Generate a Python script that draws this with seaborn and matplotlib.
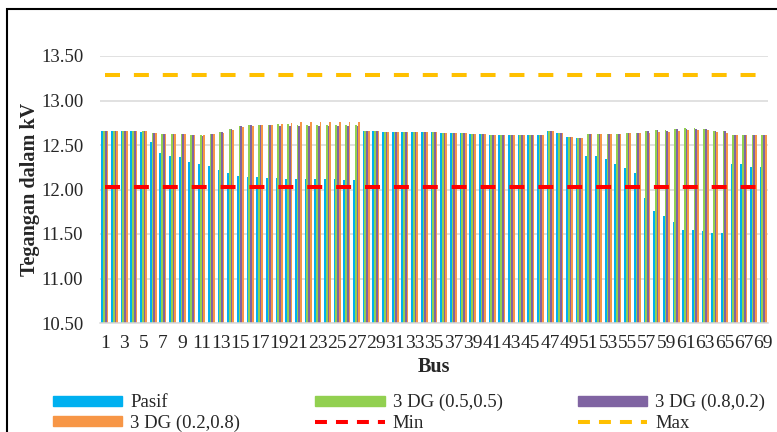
import numpy as np
import pandas as pd
import seaborn as sns
import matplotlib.pyplot as plt
from matplotlib.patches import Patch, Rectangle
from matplotlib.lines import Line2D

# data
buses = [str(i) for i in range(1, 70)]
pasif = [12.66, 12.66, 12.66, 12.66, 12.65, 12.53, 12.41, 12.38, 12.37, 12.31,
         12.29, 12.26, 12.22, 12.19, 12.15, 12.14, 12.14, 12.13, 12.13, 12.12,
         12.12, 12.12, 12.12, 12.12, 12.12, 12.11, 12.11, 12.66, 12.66, 12.65,
         12.65, 12.65, 12.65, 12.65, 12.65, 12.64, 12.64, 12.63, 12.62, 12.62,
         12.61, 12.61, 12.61, 12.61, 12.61, 12.61, 12.66, 12.64, 12.59, 12.58,
         12.38, 12.38, 12.34, 12.29, 12.24, 12.18, 11.90, 11.76, 11.70, 11.64,
         11.55, 11.54, 11.53, 11.51, 11.51, 12.29, 12.29, 12.25, 12.25]
dg_05_05 = [12.66, 12.66, 12.66, 12.66, 12.66, 12.64, 12.62, 12.62, 12.62, 12.61,
            12.61, 12.62, 12.65, 12.68, 12.71, 12.72, 12.73, 12.73, 12.74, 12.74,
            12.73, 12.73, 12.73, 12.73, 12.73, 12.73, 12.73, 12.66, 12.66, 12.65,
            12.65, 12.65, 12.65, 12.65, 12.65, 12.64, 12.64, 12.63, 12.62, 12.62,
            12.61, 12.61, 12.61, 12.61, 12.61, 12.61, 12.66, 12.64, 12.59, 12.58,
            12.62, 12.62, 12.62, 12.62, 12.63, 12.63, 12.66, 12.67, 12.67, 12.68,
            12.69, 12.69, 12.68, 12.66, 12.66, 12.61, 12.61, 12.61, 12.61]
dg_08_02 = [12.66, 12.66, 12.66, 12.66, 12.66, 12.64, 12.62, 12.62, 12.62, 12.61,
            12.60, 12.62, 12.65, 12.675, 12.71, 12.72, 12.73, 12.73, 12.71, 12.71,
            12.71, 12.71, 12.71, 12.71, 12.71, 12.71, 12.71, 12.66, 12.66, 12.65,
            12.65, 12.65, 12.65, 12.65, 12.65, 12.64, 12.64, 12.63, 12.62, 12.62,
            12.61, 12.61, 12.61, 12.61, 12.61, 12.61, 12.66, 12.64, 12.59, 12.58,
            12.62, 12.62, 12.62, 12.62, 12.63, 12.63, 12.66, 12.665, 12.66, 12.675,
            12.685, 12.685, 12.675, 12.655, 12.655, 12.61, 12.61, 12.61, 12.61]
dg_02_08 = [12.66, 12.66, 12.66, 12.66, 12.66, 12.64, 12.62, 12.62, 12.62, 12.61,
            12.61, 12.62, 12.64, 12.67, 12.705, 12.71, 12.72, 12.725, 12.74, 12.75,
            12.76, 12.76, 12.76, 12.76, 12.76, 12.76, 12.76, 12.66, 12.66, 12.65,
            12.65, 12.65, 12.65, 12.65, 12.65, 12.64, 12.64, 12.63, 12.62, 12.62,
            12.61, 12.61, 12.61, 12.61, 12.61, 12.61, 12.66, 12.64, 12.59, 12.58,
            12.62, 12.62, 12.62, 12.62, 12.63, 12.63, 12.64, 12.65, 12.65, 12.66,
            12.665, 12.67, 12.665, 12.65, 12.64, 12.61, 12.61, 12.61, 12.61]
v_min = 12.03
v_max = 13.29

series = ['Pasif', '3 DG (0.5,0.5)', '3 DG (0.8,0.2)', '3 DG (0.2,0.8)']
colors = ['#00B0F0', '#92D050', '#8064A2', '#F79646']
c_min = '#FF0000'
c_max = '#FFC000'

df = pd.DataFrame({
    'Bus': buses * 4,
    'Tegangan': pasif + dg_05_05 + dg_08_02 + dg_02_08,
    'Seri': np.repeat(series, len(buses)),
})

sns.set_style('white')
plt.rcParams['font.family'] = ['Liberation Serif', 'DejaVu Serif']
plt.rcParams['lines.scale_dashes'] = False

fig = plt.figure(figsize=(7.77, 4.32), dpi=100)
ax = fig.add_axes([100 / 777, 1 - 323 / 432, 668 / 777, 267 / 432])

sns.barplot(data=df, x='Bus', y='Tegangan', hue='Seri', palette=colors,
            saturation=1, width=0.72, linewidth=0, legend=False, ax=ax)

# garis batas min / max
for val, col in [(v_min, c_min), (v_max, c_max)]:
    sns.pointplot(x=buses, y=[val] * len(buses), color=col, markers='',
                  errorbar=None, linewidth=2.9, ax=ax)
    ln = ax.lines[-1]
    ln.set_dashes([10.8, 10.0])
    ln.set_dash_capstyle('butt')

ax.set_xlim(-0.5, len(buses) - 0.5)
ax.set_ylim(10.5, 13.5)
ax.set_yticks(np.arange(10.5, 13.51, 0.5))
ax.yaxis.set_major_formatter(plt.FormatStrFormatter('%.2f'))
ax.set_xticks(range(0, len(buses), 2))
ax.set_xticklabels(buses[::2])
ax.yaxis.grid(True, color='#D9D9D9', linewidth=1.1)
ax.set_axisbelow(True)
for s in ['top', 'right', 'left']:
    ax.spines[s].set_visible(False)
ax.spines['bottom'].set_color('#D9D9D9')
ax.spines['bottom'].set_linewidth(1.1)
ax.tick_params(axis='y', length=0, pad=12, labelsize=13.5)
ax.tick_params(axis='x', length=0, pad=9, labelsize=14)

ax.set_xlabel('Bus', fontsize=14.5, fontweight='bold', labelpad=3)
ax.set_ylabel('Tegangan dalam kV', fontsize=14.5, fontweight='bold', labelpad=1)

# legenda
h = [Patch(color=colors[0]), Patch(color=colors[3]),
     Patch(color=colors[1]), Line2D([], [], color=c_min, lw=2.9, dashes=[8.6, 6.5]),
     Patch(color=colors[2]), Line2D([], [], color=c_max, lw=2.9, dashes=[8.6, 6.5])]
lab = [series[0], series[3], series[1], 'Min', series[2], 'Max']
fig.legend(h, lab, ncol=3, loc='upper left', bbox_to_anchor=(53 / 777, 1 - 394 / 432),
           frameon=False, fontsize=13.5, handlelength=3.7, handleheight=0.45,
           handletextpad=0.43, columnspacing=4.0, labelspacing=0.18,
           borderpad=0, borderaxespad=0)

fig.add_artist(Rectangle((7 / 777, -0.1), 1.2, 1.1 - 9 / 432, transform=fig.transFigure,
                         fill=False, edgecolor='black', linewidth=1.5))

fig.savefig('out.png', dpi=100)
